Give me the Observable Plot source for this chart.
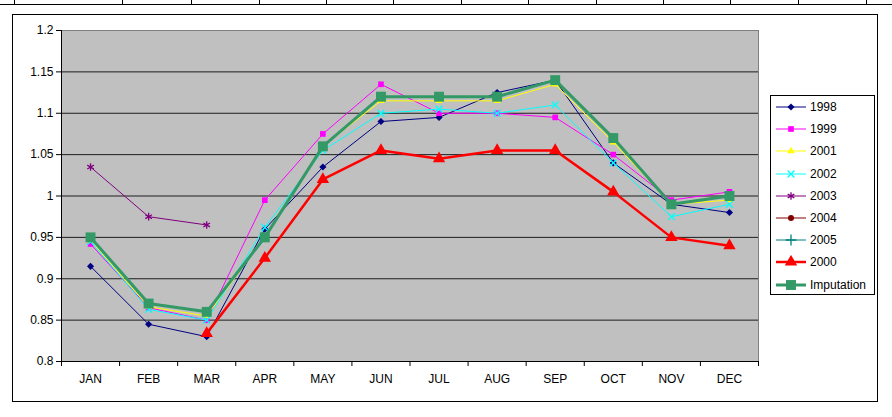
<!DOCTYPE html>
<html><head><meta charset="utf-8">
<script src="https://cdn.jsdelivr.net/npm/d3@7"></script>
<script src="https://cdn.jsdelivr.net/npm/@observablehq/plot@0.6"></script>
<style>
body{margin:0;background:#fff;}
#wrap{position:relative;width:892px;height:417px;font-family:Arial,"Liberation Sans",sans-serif;overflow:hidden;}
#wrap svg.plot{position:absolute;left:0;top:0;}
.frame{position:absolute;left:12px;top:14px;width:866px;height:388px;border:1px solid #000;box-sizing:border-box;}
.tableline{position:absolute;left:0;top:4px;width:892px;height:0;border-top:1px solid #000;}
.vcell{position:absolute;top:0;width:0;height:4px;border-left:1px solid #000;}
.legend{position:absolute;left:770px;top:95px;width:105px;height:200px;border:1px solid #000;box-sizing:border-box;background:#fff;}
.legend .item{position:absolute;left:4px;height:14px;display:flex;align-items:center;font-size:12px;color:#000;}
.legend .item svg{margin-right:3px;}
</style></head><body><div id="wrap"></div>
<script>
const months = ["JAN","FEB","MAR","APR","MAY","JUN","JUL","AUG","SEP","OCT","NOV","DEC"];
const yTicks = [0.8,0.85,0.9,0.95,1,1.05,1.1,1.15,1.2];

const v1998 = [0.915,0.845,0.83,0.96,1.035,1.09,1.095,1.125,1.14,1.04,0.99,0.98];
const v1999 = [0.942,0.865,0.85,0.995,1.075,1.135,1.10,1.10,1.095,1.05,0.995,1.005];
const v2001 = [0.946,0.866,0.855,0.95,1.06,1.115,1.115,1.115,1.135,1.065,0.99,0.995];
const v2002 = [0.945,0.863,0.85,0.962,1.055,1.10,1.105,1.10,1.11,1.04,0.975,0.99];
const v2003 = [1.035,0.975,0.965,null,null,null,null,null,null,null,null,null];
const v2004 = [null,null,null,null,null,null,null,null,null,null,null,null];
const v2005 = [null,null,null,null,null,null,null,null,null,null,null,null];
const v2000 = [null,null,0.834,0.925,1.02,1.055,1.045,1.055,1.055,1.005,0.95,0.94];
const vImputation = [0.95,0.87,0.86,0.95,1.06,1.12,1.12,1.12,1.14,1.07,0.99,1.0];

const seriesNames = ["1998","1999","2001","2002","2003","2004","2005","2000","Imputation"];
const seriesValues = [v1998,v1999,v2001,v2002,v2003,v2004,v2005,v2000,vImputation];

// styles per series
const styles = {
  "1998": {color:"#000080", symbol:"diamond2", r:3.2, sw:1, filled:true},
  "1999": {color:"#FF00FF", symbol:"square", r:3.2, sw:1, filled:true},
  "2001": {color:"#FFFF00", symbol:"triangle", r:2.8, sw:1, filled:true},
  "2002": {color:"#00FFFF", symbol:"times", r:3.2, sw:1, filled:false},
  "2003": {color:"#800080", symbol:"asterisk", r:3.6, sw:1, filled:false},
  "2004": {color:"#800000", symbol:"circle", r:3, sw:1, filled:true},
  "2005": {color:"#008080", symbol:"plus", r:3.6, sw:1, filled:false},
  "2000": {color:"#FF0000", symbol:"triangle", r:4.6, sw:2.5, filled:true},
  "Imputation": {color:"#339966", symbol:"square", r:5.6, sw:3, filled:true}
};

const rows = [];
seriesNames.forEach((name, s) => {
  seriesValues[s].forEach((v, i) => rows.push({series: name, month: months[i], i, value: v}));
});

const marks = [
  Plot.frame({fill:"#C0C0C0", stroke:"#808080"}),
  Plot.ruleY(yTicks.filter(d => d > 0.8 && d < 1.2), {stroke:"#000", strokeWidth:1, strokeOpacity:0.85}),
  Plot.axisY({ticks: yTicks, tickFormat: d => String(+d.toFixed(2)), tickSize:5, tickPadding:3, fontSize:12, label: null}),
  Plot.axisX({ticks: d3.range(0, 13), tickFormat: () => "", tickSize:5, label: null}),
  Plot.axisX({ticks: d3.range(12).map(i => i + 0.5), tickFormat: t => months[Math.floor(t)], tickSize:0, tickPadding:13, fontSize:12, label: null}),
  Plot.ruleX([0], {stroke:"#000"}),
  Plot.ruleY([0.8], {stroke:"#000"})
];

seriesNames.forEach(name => {
  const st = styles[name];
  const data = rows.filter(d => d.series === name);
  marks.push(Plot.line(data, {x: d => d.i + 0.5, y: "value", stroke: st.color, strokeWidth: st.sw}));
  const pts = data.filter(d => d.value != null);
  marks.push(Plot.dot(pts, {
    x: d => d.i + 0.5, y: "value", symbol: () => st.symbol, r: st.r,
    fill: st.filled ? st.color : "none", stroke: st.filled ? "none" : st.color, strokeWidth: 1.3
  }));
});

const chart = Plot.plot({
  width: 892, height: 417,
  marginLeft: 61, marginRight: 134, marginTop: 30, marginBottom: 56,
  style: {fontFamily: "Arial, 'Liberation Sans', sans-serif", fontSize: "12px", color: "#000", background: "transparent"},
  x: {type: "linear", domain: [0, 12], label: null},
  y: {domain: [0.8, 1.2], label: null},
  symbol: {type: "identity"},
  marks
});
chart.classList.add("plot");

const wrap = document.getElementById("wrap");
// spreadsheet cell border row above the chart
const tl = document.createElement("div"); tl.className = "tableline"; wrap.appendChild(tl);
[14,122,191,259,326,393,461,528,596,663,730,798,866].forEach(x => {
  const v = document.createElement("div"); v.className = "vcell"; v.style.left = x + "px"; wrap.appendChild(v);
});
const fr = document.createElement("div"); fr.className = "frame"; wrap.appendChild(fr);
wrap.appendChild(chart);

// legend
const legend = document.createElement("div"); legend.className = "legend";
seriesNames.forEach((name, k) => {
  const st = styles[name];
  const item = document.createElement("div"); item.className = "item";
  item.style.top = (4 + k * 22.2) + "px";
  const svg = d3.create("svg").attr("width", 32).attr("height", 14);
  svg.append("line").attr("x1", 1).attr("x2", 31).attr("y1", 7).attr("y2", 7)
    .attr("stroke", st.color).attr("stroke-width", st.sw);
  const symMap = {diamond2: d3.symbolDiamond2, square: d3.symbolSquare, triangle: d3.symbolTriangle,
    times: d3.symbolTimes, asterisk: d3.symbolAsterisk, circle: d3.symbolCircle, plus: d3.symbolPlus};
  svg.append("path").attr("transform", "translate(16,7)")
    .attr("d", d3.symbol(symMap[st.symbol], Math.PI * st.r * st.r)())
    .attr("fill", st.filled ? st.color : "none").attr("stroke", st.filled ? "none" : st.color).attr("stroke-width", 1.3);
  item.appendChild(svg.node());
  const t = document.createElement("span"); t.textContent = name; item.appendChild(t);
  legend.appendChild(item);
});
wrap.appendChild(legend);
</script>
</body></html>
